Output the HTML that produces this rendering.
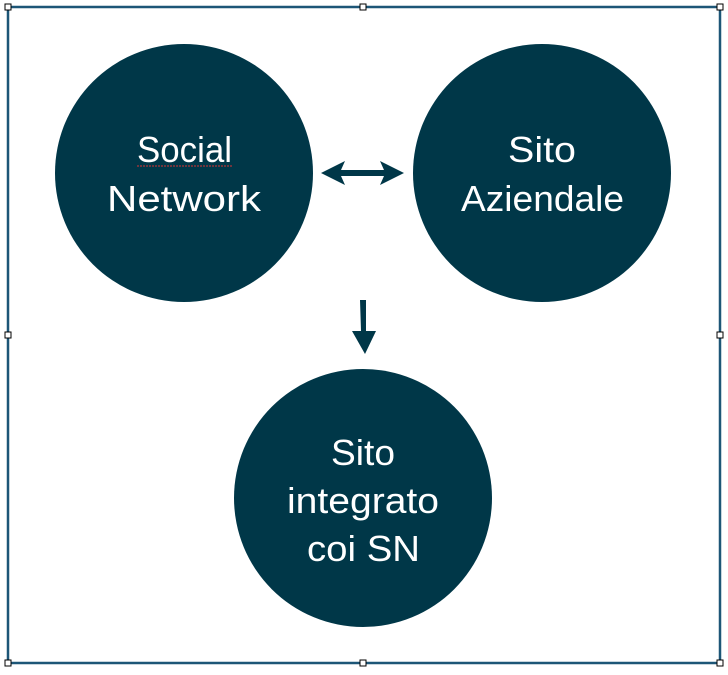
<!DOCTYPE html>
<html><head><style>
body{margin:0;width:728px;height:670px;background:#fff;overflow:hidden;font-family:"Liberation Sans",sans-serif}
</style></head><body>
<svg width="728" height="670" viewBox="0 0 728 670" xmlns="http://www.w3.org/2000/svg">
<rect x="8" y="7" width="712" height="656" fill="none" stroke="#1d5677" stroke-width="2.5"/>
<g fill="#fff" stroke="#000" stroke-width="1">
<rect x="5" y="4" width="6" height="6"/><rect x="360" y="4" width="6" height="6"/><rect x="717" y="4" width="6" height="6"/>
<rect x="5" y="332" width="6" height="6"/><rect x="717" y="332" width="6" height="6"/>
<rect x="5" y="660" width="6" height="6"/><rect x="360" y="660" width="6" height="6"/><rect x="717" y="660" width="6" height="6"/>
</g>
<g fill="#003748">
<circle cx="184" cy="173" r="129"/>
<circle cx="542" cy="173" r="129"/>
<circle cx="363" cy="498" r="129"/>
<polygon points="321,173 345,161 341,170 384,170 380,161 404,173 380,185 384,176 341,176 345,185"/>
<polygon points="360,300 366,300 366,331 376,331 365,354 352,331 361,331"/>
</g>
<g fill="#fff" font-size="36">
<text x="137" y="162" textLength="95" lengthAdjust="spacingAndGlyphs">Social</text>
<text x="107" y="211" textLength="154" lengthAdjust="spacingAndGlyphs">Network</text>
<text x="508" y="162" textLength="68" lengthAdjust="spacingAndGlyphs">Sito</text>
<text x="461" y="211" textLength="163" lengthAdjust="spacingAndGlyphs">Aziendale</text>
<text x="331" y="465" textLength="64" lengthAdjust="spacingAndGlyphs">Sito</text>
<text x="287" y="513" textLength="152" lengthAdjust="spacingAndGlyphs">integrato</text>
<text x="307" y="561" textLength="113" lengthAdjust="spacingAndGlyphs">coi SN</text>
</g>
<line x1="137" y1="166" x2="232" y2="166" stroke="#d33" stroke-width="1" stroke-dasharray="2,1"/>
</svg>
</body></html>
